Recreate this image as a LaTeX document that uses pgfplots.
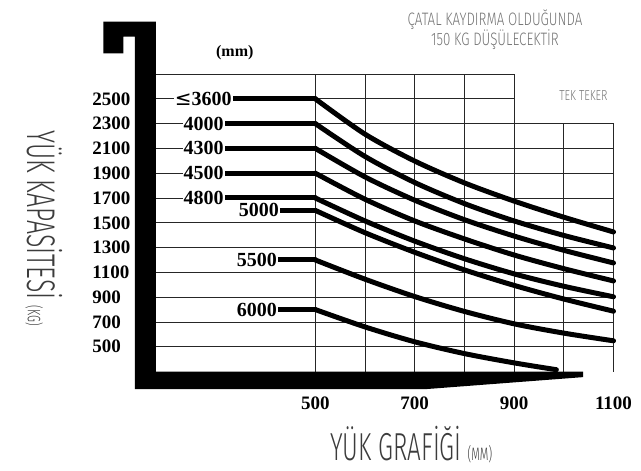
\documentclass[border=0pt]{standalone}
\usepackage{fontspec}
\usepackage{pgfplots}
\pgfplotsset{compat=1.18}
\setmainfont{Liberation Serif}
\newfontfamily\sbf{Liberation Serif}
\newfontfamily\dejavu{DejaVu Sans}
\newfontfamily\thinX[FakeStretch=0.62]{Fira Sans Light}
\newfontfamily\thinN[FakeStretch=0.74]{Fira Sans Light}
\definecolor{lblgray}{HTML}{3C3C3C}
\definecolor{notegray}{HTML}{757575}
\begin{document}
\begin{tikzpicture}
\begin{axis}[
  scale only axis, width=457.2pt, height=297.5pt,
  xmin=180, xmax=1100, ymin=300, ymax=2700,
  clip=false,
  axis line style={draw=none},
  major tick length=0pt,
  xtick={500,700,900,1100}, xticklabels={500,700,900,1100},
  ytick={500,700,...,2500},
  yticklabels={500,700,900,1100,1300,1500,1700,1900,2100,2300,2500},
  xticklabel style={font=\sbf\bfseries\fontsize{19}{19}\selectfont, anchor=north, inner sep=0pt, yshift=-25pt},
  yticklabel style={font=\sbf\bfseries\fontsize{19}{19}\selectfont, anchor=west, inner sep=0pt, xshift=-64pt},
]
% grid
\draw[black!85, line width=0.9pt]
  (axis cs:180,2700) -- (axis cs:900,2700)
  (axis cs:180,2500) -- (axis cs:900,2500)
  (axis cs:180,2300) -- (axis cs:1100,2300)
  (axis cs:180,2100) -- (axis cs:1100,2100)
  (axis cs:180,1900) -- (axis cs:1100,1900)
  (axis cs:180,1700) -- (axis cs:1100,1700)
  (axis cs:180,1500) -- (axis cs:1100,1500)
  (axis cs:180,1300) -- (axis cs:1100,1300)
  (axis cs:180,1100) -- (axis cs:1100,1100)
  (axis cs:180,900) -- (axis cs:1100,900)
  (axis cs:180,700) -- (axis cs:1100,700)
  (axis cs:180,500) -- (axis cs:1100,500)
  (axis cs:500,300) -- (axis cs:500,2700)
  (axis cs:600,300) -- (axis cs:600,2700)
  (axis cs:700,300) -- (axis cs:700,2700)
  (axis cs:800,300) -- (axis cs:800,2700)
  (axis cs:900,300) -- (axis cs:900,2700)
  (axis cs:1000,300) -- (axis cs:1000,2300)
  (axis cs:1100,300) -- (axis cs:1100,2300);
% fork shape
\fill[black] (axis cs:73.4,3122) -- (axis cs:179,3122) -- (axis cs:179,300)
  -- (axis cs:1038.6,300) -- (axis cs:1038.6,255) -- (axis cs:724.7,159)
  -- (axis cs:137.2,159) -- (axis cs:137.2,3001) -- (axis cs:113.7,3001)
  -- (axis cs:113.7,2867) -- (axis cs:73.4,2867) -- cycle;
% label segments
\addplot[black, line width=5pt, line cap=round] coordinates {(334,2500) (500,2500)};
\addplot[black, line width=5pt, line cap=round] coordinates {(318,2300) (500,2300)};
\addplot[black, line width=5pt, line cap=round] coordinates {(318,2100) (500,2100)};
\addplot[black, line width=5pt, line cap=round] coordinates {(318,1900) (500,1900)};
\addplot[black, line width=5pt, line cap=round] coordinates {(318,1700) (500,1700)};
\addplot[black, line width=5pt, line cap=round] coordinates {(429,1600) (500,1600)};
\addplot[black, line width=5pt, line cap=round] coordinates {(425,1200) (500,1200)};
\addplot[black, line width=5pt, line cap=round] coordinates {(425,800) (500,800)};
% curves
\addplot[black, line width=5pt, line cap=round, smooth] coordinates {(500,2500) (600,2215) (700,1998) (800,1822) (900,1675) (1000,1545) (1100,1426)};
\addplot[black, line width=5pt, line cap=round, smooth] coordinates {(500,2300) (600,2035) (700,1825) (800,1655) (900,1515) (1000,1398) (1100,1297)};
\addplot[black, line width=5pt, line cap=round, smooth] coordinates {(500,2100) (600,1870) (700,1682) (800,1525) (900,1393) (1000,1278) (1100,1176)};
\addplot[black, line width=5pt, line cap=round, smooth] coordinates {(500,1900) (600,1690) (700,1515) (800,1370) (900,1240) (1000,1130) (1100,1031)};
\addplot[black, line width=5pt, line cap=round, smooth] coordinates {(500,1700) (600,1515) (700,1352) (800,1210) (900,1088) (1000,988) (1100,903)};
\addplot[black, line width=5pt, line cap=round, smooth] coordinates {(500,1600) (600,1420) (700,1262) (800,1120) (900,995) (1000,885) (1100,787)};
\addplot[black, line width=5pt, line cap=round, smooth] coordinates {(500,1200) (600,1045) (700,905) (800,785) (900,685) (1000,610) (1100,548)};
\addplot[black, line width=5pt, line cap=round, smooth] coordinates {(500,800) (600,660) (700,540) (800,445) (900,370) (985,315)};
% line labels
\begin{scope}[every node/.style={fill=white, inner sep=1pt, font=\sbf\bfseries\fontsize{20}{20}\selectfont}]
\node[anchor=east] at (axis cs:334,2500) {{\dejavu\mdseries ≤}3600};
\node[anchor=east] at (axis cs:318,2300) {4000};
\node[anchor=east] at (axis cs:318,2100) {4300};
\node[anchor=east] at (axis cs:318,1900) {4500};
\node[anchor=east] at (axis cs:318,1700) {4800};
\node[anchor=east] at (axis cs:429,1600) {5000};
\node[anchor=east] at (axis cs:425,1200) {5500};
\node[anchor=east] at (axis cs:425,800) {6000};
\end{scope}
\node[font=\sbf\bfseries\fontsize{16}{16}\selectfont] at (axis cs:338,2870) {(mm)};
% notes
\node[anchor=base, font=\thinN\fontsize{18}{18}\selectfont, text=notegray, inner sep=0pt] at (axis cs:861.6,3095) {ÇATAL KAYDIRMA OLDUĞUNDA};
\node[anchor=base, font=\thinN\fontsize{18}{18}\selectfont, text=notegray, inner sep=0pt] at (axis cs:861.6,2926) {150 KG DÜŞÜLECEKTİR};
\node[anchor=base, font=\thinN\fontsize{14.5}{14.5}\selectfont, text=notegray, inner sep=0pt] at (axis cs:1039.6,2490) {TEK TEKER};
% axis titles
\node[anchor=base west, font=\thinX\fontsize{39}{39}\selectfont, text=lblgray, inner sep=0pt] at (axis cs:529.6,-420) {YÜK GRAFİĞİ\hspace{6pt}{\fontsize{18}{18}\selectfont (MM)}};
\node[anchor=base west, rotate=-90, font=\thinX\fontsize{40}{40}\selectfont, text=lblgray, inner sep=0pt] at (axis cs:-78.1,2248) {YÜK KAPASİTESİ\hspace{6pt}{\fontsize{18}{18}\selectfont (KG)}};
\coordinate (BL) at (axis cs:-134.4,-494.8);
\coordinate (TR) at (axis cs:1155.3,3297);
\end{axis}
\pgfresetboundingbox
\path[use as bounding box] (BL) rectangle (TR);
\end{tikzpicture}
\end{document}
